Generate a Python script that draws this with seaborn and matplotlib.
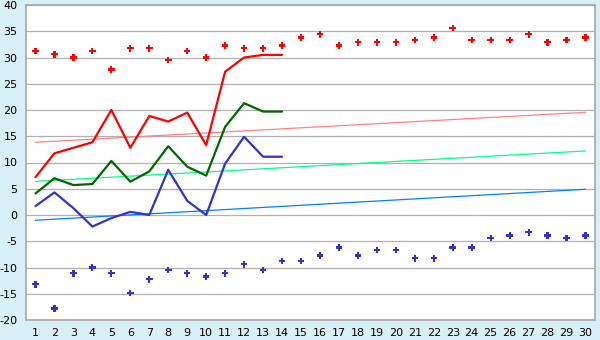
import matplotlib
matplotlib.use("Agg")
import matplotlib.pyplot as plt
import seaborn as sns
import pandas as pd
import numpy as np

days = list(range(1, 31))
line_days = list(range(1, 15))

record_max = [31.2, 30.6, 30.0, 31.2, 27.7, 31.75, 31.75, 29.5, 31.2, 30.0,
              32.3, 31.75, 31.75, 32.3, 33.8, 34.4, 32.3, 32.9, 32.9, 32.9,
              33.3, 33.8, 35.6, 33.3, 33.3, 33.3, 34.4, 32.9, 33.3, 33.8]
record_min = [-13.2, -17.8, -11.1, -10.0, -11.1, -14.9, -12.25, -10.5, -11.1, -11.7,
              -11.1, -9.4, -10.5, -8.8, -8.8, -7.7, -6.2, -7.7, -6.7, -6.7,
              -8.25, -8.25, -6.2, -6.2, -4.4, -3.9, -3.3, -3.9, -4.4, -3.9]

temp_max = [7.2, 11.75, 12.8, 13.85, 20.0, 12.8, 18.86, 17.8, 19.5, 13.3,
            27.3, 30.0, 30.5, 30.5]
temp_mean = [4.1, 7.0, 5.7, 5.9, 10.3, 6.35, 8.3, 13.1, 9.2, 7.5,
             16.8, 21.3, 19.7, 19.7]
temp_min = [1.7, 4.3, 1.3, -2.2, -0.6, 0.6, 0.0, 8.6, 2.7, 0.0,
            9.8, 14.9, 11.1, 11.1]

trend_days = [1, 30]
trend_max = [13.85, 19.56]
trend_mean = [6.4, 12.2]
trend_min = [-1.0, 4.9]

y_ticks = list(range(-20, 45, 5))

sns.set_theme(style="white")
plt.rcParams['font.family'] = ['DejaVu Sans']

bg = '#d9eff6'
fig = plt.figure(figsize=(6.0, 3.4), dpi=100, facecolor=bg)
ax = fig.add_axes([26/600, 1-320/340, (595-26)/600, (320-5)/340])
ax.set_facecolor('white')

for v in y_ticks:
    ax.axhline(v, color='#b0b0b0', lw=0.9, zorder=0)

tr = pd.DataFrame({'d': trend_days, 'mx': trend_max, 'mn': trend_mean, 'lo': trend_min})
sns.lineplot(data=tr, x='d', y='mx', color='#ff8080', lw=0.9, ax=ax, zorder=2)
sns.lineplot(data=tr, x='d', y='mn', color='#00ff88', lw=0.9, ax=ax, zorder=2)
sns.lineplot(data=tr, x='d', y='lo', color='#0080ff', lw=0.9, ax=ax, zorder=2)

ln = pd.DataFrame({'d': line_days, 'mx': temp_max, 'mn': temp_mean, 'lo': temp_min})
sns.lineplot(data=ln, x='d', y='mx', color='#ff0000', lw=1.6, ax=ax, zorder=3)
sns.lineplot(data=ln, x='d', y='mn', color='#006600', lw=1.6, ax=ax, zorder=3)
sns.lineplot(data=ln, x='d', y='lo', color='#3333cc', lw=1.6, ax=ax, zorder=3)

rec = pd.DataFrame({'d': days, 'hi': record_max, 'lo': record_min})
sns.scatterplot(data=rec, x='d', y='hi', color='#ff0000', marker='P', s=22,
                edgecolor='none', ax=ax, zorder=4)
sns.scatterplot(data=rec, x='d', y='lo', color='#3333cc', marker='P', s=22,
                edgecolor='none', ax=ax, zorder=4)

ax.set_xlim(0.5, 30.5)
ax.set_ylim(-20, 40)
ax.set_xticks(days)
ax.set_xticklabels([str(d) for d in days])
ax.set_yticks(y_ticks)
ax.set_yticklabels([str(v) for v in y_ticks])
ax.set_xlabel('')
ax.set_ylabel('')
ax.tick_params(axis='both', labelsize=8, colors='black', length=4, width=0.9,
               direction='out', pad=2)
for s in ax.spines.values():
    s.set_color('#a8a8a8')
    s.set_linewidth(1.2)

fig.savefig('out.png', dpi=100, facecolor=bg)
